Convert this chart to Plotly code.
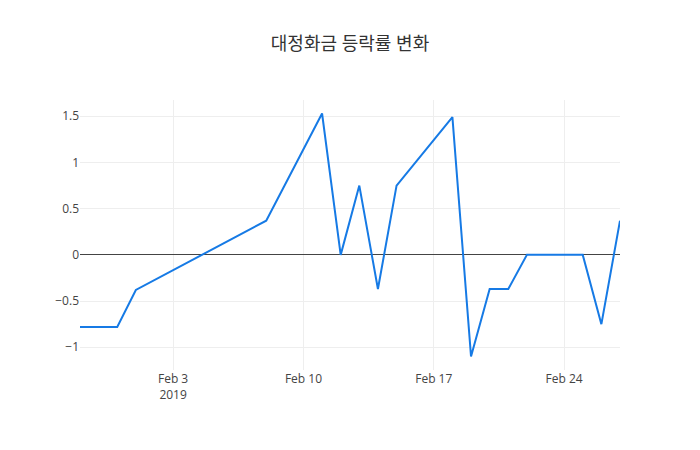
import plotly.graph_objects as go

dates = ["2019-01-29", "2019-01-30", "2019-01-31", "2019-02-01", "2019-02-08",
         "2019-02-11", "2019-02-12", "2019-02-13", "2019-02-14", "2019-02-15",
         "2019-02-18", "2019-02-19", "2019-02-20", "2019-02-21", "2019-02-22",
         "2019-02-25", "2019-02-26", "2019-02-27"]
rates = [-0.78, -0.78, -0.78, -0.38, 0.37,
         1.53, 0.0, 0.75, -0.37, 0.75,
         1.49, -1.10, -0.37, -0.37, 0.0,
         0.0, -0.75, 0.37]

fig = go.Figure(go.Scatter(x=dates, y=rates, mode="lines",
                           line=dict(color="rgb(22,122,229)", width=2)))
fig.update_layout(
    title=dict(text="대정화금 등락률 변화", x=0.5, xanchor="center",
               font=dict(size=18, color="#333", family="Open Sans, Noto Sans CJK KR")),
    template="plotly_white",
    font=dict(family="Open Sans, Noto Sans CJK KR", color="#444", size=12),
    plot_bgcolor="white", paper_bgcolor="white",
    margin=dict(l=80, r=80, t=100, b=80),
    showlegend=False,
)
fig.update_xaxes(showgrid=True, gridcolor="#eee", zeroline=False, showline=False,
                 dtick=7 * 24 * 3600 * 1000, tick0="2019-02-03")
fig.update_yaxes(showgrid=True, gridcolor="#eee", zeroline=True, zerolinecolor="#444",
                 zerolinewidth=1, showline=False)
fig.write_html("out.html", default_width="700px", default_height="450px",
               config={"displayModeBar": False},
               post_script="document.body.style.margin='0';")
